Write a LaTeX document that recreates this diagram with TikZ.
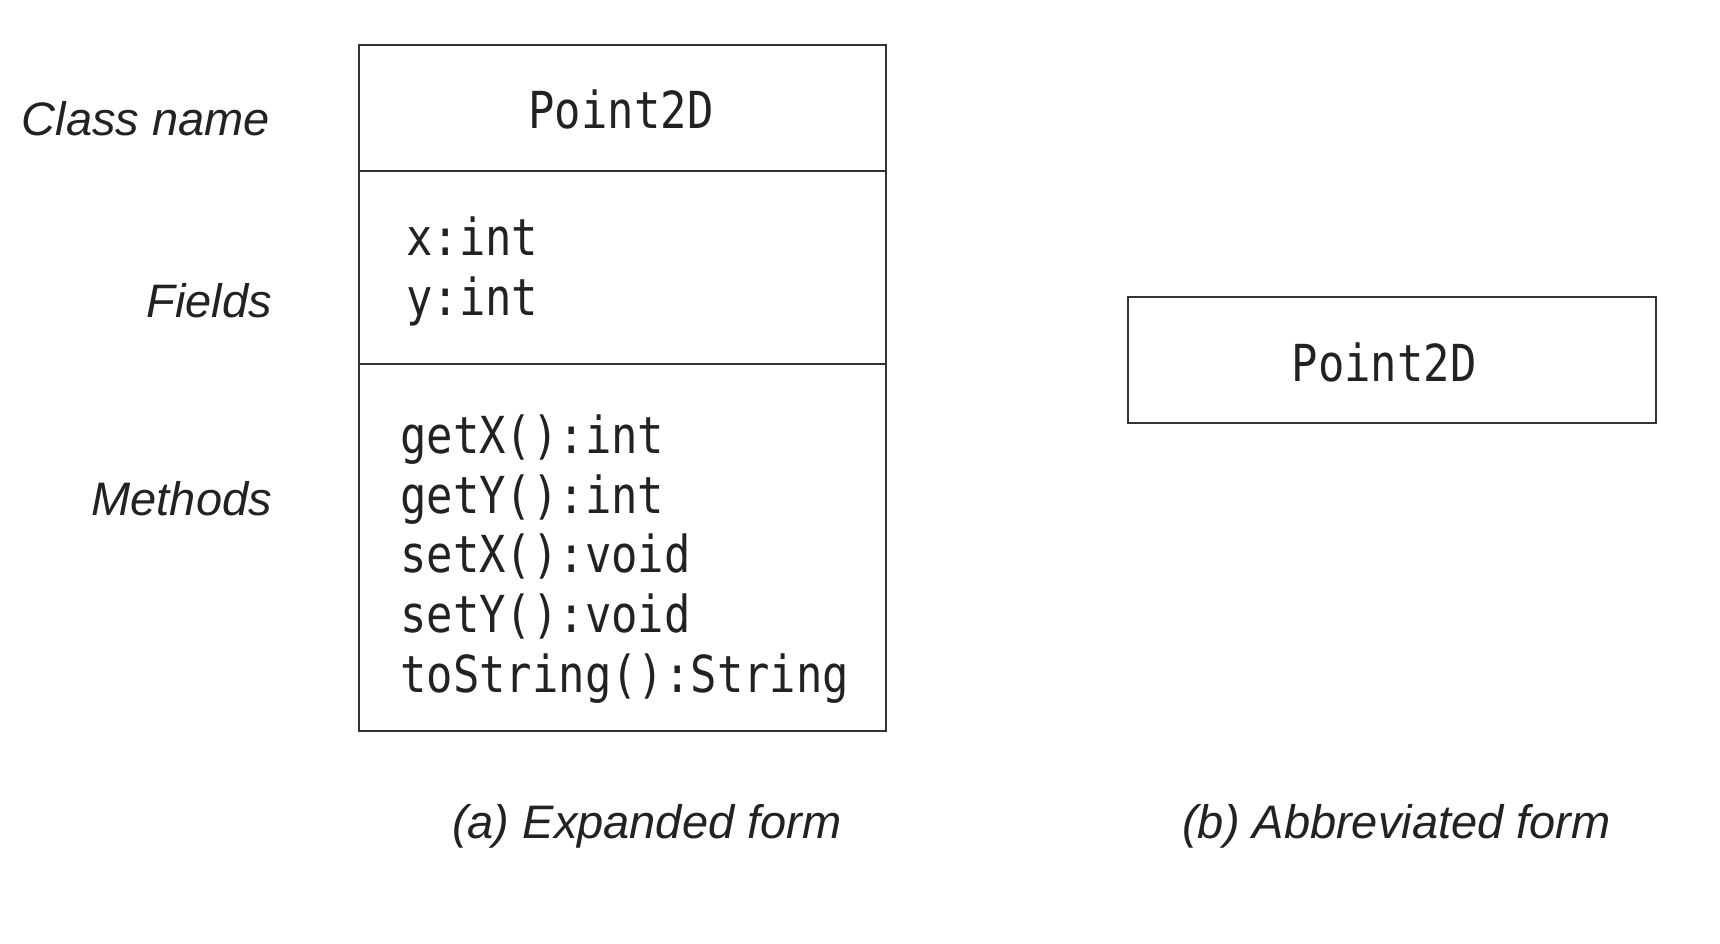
\documentclass[tikz,border=0pt]{standalone}
\usepackage{fontspec}
\setmainfont{Liberation Sans}
\newfontfamily\codefont[FakeStretch=0.86]{DejaVu Sans Mono}
\definecolor{ink}{HTML}{222222}
\definecolor{linec}{HTML}{333333}
\begin{document}
\begin{tikzpicture}[x=1pt,y=-1pt,
  boxline/.style={draw=linec,line width=2.8pt},
  code/.style={inner sep=0pt,anchor=base west,text=ink,font=\codefont\fontsize{51}{60}\selectfont},
  codec/.style={code,anchor=base},
  lbl/.style={inner sep=0pt,anchor=base east,text=ink,font=\itshape\fontsize{47}{56}\selectfont},
  captext/.style={inner sep=0pt,anchor=base west,text=ink,font=\itshape\fontsize{47}{56}\selectfont}]
\useasboundingbox (0,0) rectangle (1720,944);
% expanded form
\draw[boxline] (359,45) rectangle (886,731);
\coordinate (d1l) at (359,171); \coordinate (d1r) at (886,171);
\coordinate (d2l) at (359,364); \coordinate (d2r) at (886,364);
\draw[boxline] (d1l) -- (d1r);
\draw[boxline] (d2l) -- (d2r);
\node[codec] (cn) at (621,129) {Point2D};
\node[code] (f1) at (406,255) {x:int};
\node[code] (f2) at (406,315) {y:int};
\node[code] (m1) at (400,453) {getX():int};
\node[code] (m2) at (400,513) {getY():int};
\node[code] (m3) at (400,572) {setX():void};
\node[code] (m4) at (400,632) {setY():void};
\node[code] (m5) at (400,692) {toString():String};
% labels
\node[lbl] (l1) at (270,136) {Class name};
\node[lbl] (l2) at (272,317) {Fields};
\node[lbl] (l3) at (272,515) {Methods};
% abbreviated form
\draw[boxline] (1128,297) rectangle (1656,423);
\node[codec] (cn2) at (1384,381) {Point2D};
% captions
\node[captext] (ca) at (452,838) {(a) Expanded form};
\node[captext] (cb) at (1182,838) {(b) Abbreviated form};
\end{tikzpicture}
\end{document}
